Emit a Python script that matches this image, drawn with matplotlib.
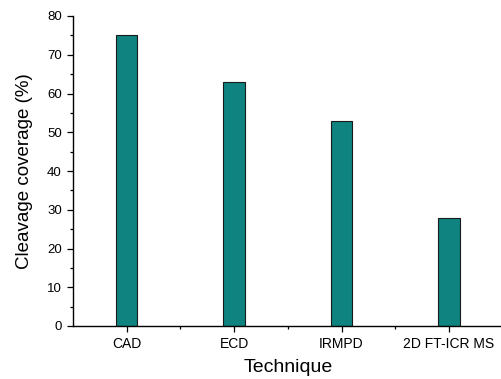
import matplotlib
matplotlib.use("Agg")
import matplotlib.pyplot as plt
from matplotlib.ticker import MultipleLocator, FixedLocator

techniques = ["CAD", "ECD", "IRMPD", "2D FT-ICR MS"]
coverage = [75, 63, 53, 28]

plt.rcParams['font.family'] = ['Liberation Sans', 'DejaVu Sans']

fig = plt.figure(figsize=(5.01, 3.79), dpi=100)
ax = fig.add_axes([73/501, 53/379, 429.7/501, 310/379])

x = list(range(1, len(techniques) + 1))
ax.bar(x, coverage, width=0.2, color="#0e8380", edgecolor="#1a1a1a", linewidth=0.8)

ax.set_xlim(0.5, len(techniques) + 0.5)
ax.set_ylim(0, 80)
ax.set_xticks(x)
ax.set_xticklabels(techniques, fontsize=10)
ax.xaxis.set_minor_locator(FixedLocator([1.5, 2.5, 3.5]))
ax.yaxis.set_major_locator(MultipleLocator(10))
ax.yaxis.set_minor_locator(MultipleLocator(5))
ax.tick_params(axis='y', labelsize=9.5)
ax.tick_params(which='major', length=4, width=0.9, direction='out', pad=4)
ax.tick_params(which='minor', length=2.5, width=0.9, direction='out')

for s in ['top', 'right']:
    ax.spines[s].set_visible(False)
for s in ['left', 'bottom']:
    ax.spines[s].set_linewidth(1.0)

ax.set_ylabel("Cleavage coverage (%)", fontsize=13.5, labelpad=10)
ax.set_xlabel("Technique", fontsize=14, labelpad=6)

fig.savefig("out.png", dpi=100)
